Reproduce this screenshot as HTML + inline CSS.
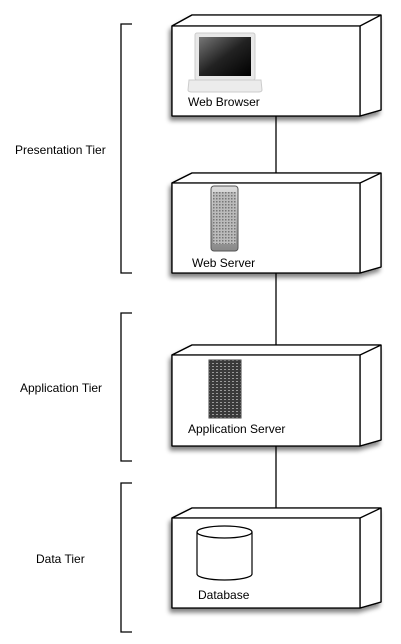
<!DOCTYPE html>
<html><head><meta charset="utf-8"><style>
html,body{margin:0;padding:0;background:#fff;width:401px;height:644px;overflow:hidden}
text{font-family:"Liberation Sans",sans-serif;font-size:12px;fill:#000}
</style></head><body>
<svg width="401" height="644" viewBox="0 0 401 644" xmlns="http://www.w3.org/2000/svg">
<defs>
<filter id="sh" x="-10%" y="-10%" width="130%" height="140%">
<feGaussianBlur in="SourceAlpha" stdDeviation="2.5"/>
<feOffset dx="-2" dy="4" result="b"/>
<feComponentTransfer><feFuncA type="linear" slope="0.5"/></feComponentTransfer>
<feMerge><feMergeNode/><feMergeNode in="SourceGraphic"/></feMerge>
</filter>
<linearGradient id="scr" x1="0" y1="0" x2="1" y2="1">
<stop offset="0" stop-color="#777"/><stop offset="0.5" stop-color="#222"/><stop offset="1" stop-color="#000"/>
</linearGradient>
<linearGradient id="tow" x1="0" y1="0" x2="0" y2="1">
<stop offset="0" stop-color="#ddd"/><stop offset="1" stop-color="#888"/>
</linearGradient>
<pattern id="dots" width="3" height="3" patternUnits="userSpaceOnUse"><rect width="3" height="3" fill="#bbb"/><rect width="1.5" height="1.5" fill="#777"/></pattern>
<pattern id="dots2" width="4" height="3" patternUnits="userSpaceOnUse"><rect width="4" height="3" fill="#3a3a3a"/><rect width="2" height="1" fill="#999"/></pattern>
</defs>

<g stroke="#000" stroke-width="1.3" fill="none">
<line x1="276" y1="116" x2="276" y2="173"/>
<line x1="276" y1="273" x2="276" y2="345"/>
<line x1="276" y1="446" x2="276" y2="508"/>
<path d="M132 24H121V273H132"/>
<path d="M132 313H121V461H132"/>
<path d="M132 483H121V632H132"/>
</g>

<g stroke="#000" stroke-width="1.3" stroke-linejoin="round">
<g filter="url(#sh)"><path d="M172 26L192 15H381V110L360 116H172Z" fill="#fff"/></g>
<path d="M172 26L192 15H381L360 26Z M360 26L381 15V110L360 116Z" fill="#fff"/>
<rect x="172" y="26" width="188" height="90" fill="#fff"/>

<g filter="url(#sh)"><path d="M172 183L192 173H381V267L360 273H172Z" fill="#fff"/></g>
<path d="M172 183L192 173H381L360 183Z M360 183L381 173V267L360 273Z" fill="#fff"/>
<rect x="172" y="183" width="188" height="90" fill="#fff"/>

<g filter="url(#sh)"><path d="M172 355L192 345H381V440L360 446H172Z" fill="#fff"/></g>
<path d="M172 355L192 345H381L360 355Z M360 355L381 345V440L360 446Z" fill="#fff"/>
<rect x="172" y="355" width="188" height="91" fill="#fff"/>

<g filter="url(#sh)"><path d="M172 518L192 508H381V602L360 608H172Z" fill="#fff"/></g>
<path d="M172 518L192 508H381L360 518Z M360 518L381 508V602L360 608Z" fill="#fff"/>
<rect x="172" y="518" width="188" height="90" fill="#fff"/>
</g>

<!-- laptop -->
<rect x="195" y="33" width="60" height="47" rx="2" fill="#e8e8e8" stroke="#ccc"/>
<rect x="199" y="37" width="52" height="39" fill="url(#scr)"/>
<path d="M189 80H261L262 90Q262 92 258 92H192Q188 92 188 90Z" fill="#ececec" stroke="#ccc"/>
<!-- tower -->
<rect x="211" y="186" width="27" height="65" rx="3" fill="url(#tow)" stroke="#555"/>
<rect x="213" y="192" width="23" height="52" fill="url(#dots)"/>
<!-- app server -->
<rect x="209" y="360" width="32" height="58" fill="url(#dots2)" stroke="#444"/>
<!-- db -->
<g stroke="#000" stroke-width="1.2" fill="#fff">
<path d="M197 532V574A27.5 6 0 0 0 252 574V532"/>
<ellipse cx="224.5" cy="532" rx="27.5" ry="6"/>
</g>

<text x="188" y="106">Web Browser</text>
<text x="192" y="267">Web Server</text>
<text x="188" y="433">Application Server</text>
<text x="198" y="599">Database</text>
<text x="15" y="154">Presentation Tier</text>
<text x="20" y="392">Application Tier</text>
<text x="36" y="563">Data Tier</text>
</svg>
</body></html>
